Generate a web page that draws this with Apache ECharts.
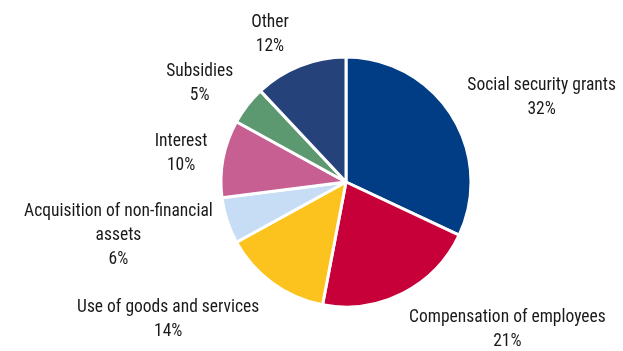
<!DOCTYPE html>
<html>
<head>
<meta charset="utf-8">
<script src="https://cdn.jsdelivr.net/npm/echarts@6/dist/echarts.min.js"></script>
<style>
  html, body { margin: 0; padding: 0; background: #fff; }
  #chart { width: 623px; height: 351px; }
</style>
</head>
<body>
<div id="chart"></div>
<script>
const categories = [
  'Social security grants',
  'Compensation of employees',
  'Use of goods and services',
  'Acquisition of non-financial\nassets',
  'Interest',
  'Subsidies',
  'Other',
]
const shares = [32, 21, 14, 6, 10, 5, 12]
const colors = ['#003d84', '#c8003a', '#fcc31e', '#c6ddf5', '#c75f92', '#5c9870', '#26427a']

// small nudges so the labels sit where the original's "best fit" put them
const labelNudge = [[-1, -10], [-5, 24], [0, 25], [4, 11], [3, -2], [2, -13], [-1, -18]]

const chart = echarts.init(document.getElementById('chart'))

chart.setOption({
  animation: false,
  color: colors,
  series: [{
    type: 'pie',
    center: [346, 182],
    radius: 125,
    startAngle: 90,
    clockwise: true,
    avoidLabelOverlap: false,
    data: categories.map((name, i) => ({ name, value: shares[i] })),
    itemStyle: { borderColor: '#fff', borderWidth: 3 },
    label: {
      show: true,
      position: 'outside',
      formatter: (p) => `${p.name}\n${p.value}%`,
      fontFamily: "'Roboto Condensed', sans-serif",
      fontSize: 17.5,
      lineHeight: 24,
      color: '#1a1a1a',
    },
    labelLine: { show: false, length: 14, length2: 0 },
    // centre each multi-line label on its own box, like the original
    labelLayout: (p) => {
      const [dx, dy] = labelNudge[p.dataIndex]
      return {
        x: p.labelRect.x + p.labelRect.width / 2 + dx,
        y: p.labelRect.y + p.labelRect.height / 2 + dy,
        align: 'center',
        verticalAlign: 'middle',
      }
    },
  }],
})
</script>
</body>
</html>
